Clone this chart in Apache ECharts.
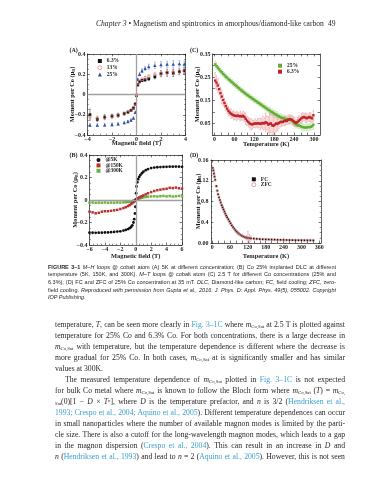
<!DOCTYPE html>
<html><head><meta charset="utf-8">
<script src="https://cdn.jsdelivr.net/npm/echarts@6/dist/echarts.min.js"></script>
<style>
html,body{margin:0;padding:0;background:#fff}
#page{position:relative;width:389px;height:480px;overflow:hidden;background:#fff}
#chart{position:absolute;left:0;top:0;width:389px;height:480px}
.t{position:absolute;white-space:nowrap;color:#231f20}
.hd{font-family:'Liberation Serif',serif;font-size:7.6px;line-height:10px}
.cap{font-family:'Liberation Sans',sans-serif;font-size:5.5px;line-height:7.6px;left:48px;width:288px}
.bd{font-family:'Liberation Serif',serif;font-size:7.7px;line-height:11px;left:55px;width:290px}
.lk{color:#3c9fd0}
sub{font-size:0.62em;vertical-align:-0.3em;line-height:0}
sup{font-size:0.62em;vertical-align:0.45em;line-height:0}
</style>
</head><body>
<div id="page">
<div id="chart"></div>

<div class="t hd" style="left:96px;top:19px"><i>Chapter 3</i> • Magnetism and spintronics in amorphous/diamond-like carbon</div>
<div class="t hd" style="left:328px;top:19px">49</div>

<div class="t cap j" style="top:263.7px"><span><b>FIGURE 3–1</b> <i>M–H</i> loops @ cobalt atom (A) 5K at different concentration; (B) Co 25% implanted DLC at different</span></div>
<div class="t cap j" style="top:271.3px"><span>temperature (5K, 150K, and 300K). <i>M–T</i> loops @ cobalt atom (C) 2.5 T for different Co concentrations (25% and</span></div>
<div class="t cap j" style="top:278.9px"><span>6.3%); (D) FC and ZFC of 25% Co concentration at 35 mT. <i>DLC</i>, Diamond-like carbon; <i>FC</i>, field cooling; <i>ZFC</i>, zero-</span></div>
<div class="t cap j" style="top:286.5px"><span>field cooling. <i>Reproduced with permission from Gupta et al., 2016. J. Phys. D: Appl. Phys. 49(5), 055002. Copyright</i></span></div>
<div class="t cap" style="top:294.1px"><span><i>IOP Publishing.</i></span></div>

<div class="t bd j" style="top:318.5px"><span>temperature, <i>T</i>, can be seen more clearly in <span class="lk">Fig. 3–1C</span> where <i>m</i><sub>Co,Sat</sub> at 2.5 T is plotted against</span></div>
<div class="t bd j" style="top:329.5px"><span>temperature for 25% Co and 6.3% Co. For both concentrations, there is a large decrease in</span></div>
<div class="t bd j" style="top:340.5px"><span><i>m</i><sub>Co,Sat</sub> with temperature, but the temperature dependence is different where the decrease is</span></div>
<div class="t bd j" style="top:351.5px"><span>more gradual for 25% Co. In both cases, <i>m</i><sub>Co,Sat</sub> at is significantly smaller and has similar</span></div>
<div class="t bd" style="top:362.5px"><span>values at 300K.</span></div>
<div class="t bd j" style="top:373.5px;left:65px;width:280px"><span>The measured temperature dependence of <i>m</i><sub>Co,Sat</sub> plotted in <span class="lk">Fig. 3–1C</span> is not expected</span></div>
<div class="t bd j" style="top:384.5px"><span>for bulk Co metal where <i>m</i><sub>Co,Sat</sub> is known to follow the Bloch form where <i>m</i><sub>Co,Sat</sub> (<i>T</i>) = <i>m</i><sub>Co,</sub></span></div>
<div class="t bd j" style="top:395.5px"><span><sub>Sat</sub>(0)[1 − <i>D</i> × <i>T</i><sup><i>n</i></sup>], where <i>D</i> is the temperature prefactor, and <i>n</i> is 3/2 (<span class="lk">Hendriksen et al.,</span></span></div>
<div class="t bd j" style="top:406.5px"><span><span class="lk">1993; Crespo et al., 2004; Aquino et al., 2005</span>). Different temperature dependences can occur</span></div>
<div class="t bd j" style="top:417.5px"><span>in small nanoparticles where the number of available magnon modes is limited by the parti-</span></div>
<div class="t bd j" style="top:428.5px"><span>cle size. There is also a cutoff for the long-wavelength magnon modes, which leads to a gap</span></div>
<div class="t bd j" style="top:439.5px"><span>in the magnon dispersion (<span class="lk">Crespo et al., 2004</span>). This can result in an increase in <i>D</i> and</span></div>
<div class="t bd j" style="top:450.5px"><span><i>n</i> (<span class="lk">Hendriksen et al., 1993</span>) and lead to <i>n</i> = 2 (<span class="lk">Aquino et al., 2005</span>). However, this is not seen</span></div>
</div>

<script>
// ---------- Panel A: M-H loops at 5K, different concentrations ----------
const fieldA = [-3.8,-3.2,-2.6,-2.0,-1.5,-1.0,-0.7,-0.45,-0.25,-0.1,0,0.1,0.25,0.45,0.7,1.0,1.5,2.0,2.5,3.0,3.5,3.9];
const momA63 = [-0.200,-0.245,-0.224,-0.214,-0.205,-0.188,-0.174,-0.158,-0.135,-0.095,-0.01,0.095,0.125,0.138,0.145,0.155,0.175,0.205,0.215,0.212,0.225,0.235];
const errA63 = [0.055,0.02,0.025,0.02,0.02,0.015,0.01,0.01,0.01,0.01,0.01,0.01,0.01,0.01,0.015,0.015,0.02,0.03,0.035,0.035,0.03,0.03];
const momA13 = [-0.225,-0.232,-0.225,-0.215,-0.208,-0.192,-0.178,-0.155,-0.128,-0.09,-0.005,0.09,0.13,0.15,0.165,0.18,0.2,0.21,0.218,0.225,0.23,0.232];
const errA13 = [0.025,0.02,0.02,0.015,0.015,0.015,0.01,0.01,0.01,0.01,0.01,0.01,0.01,0.01,0.015,0.015,0.02,0.025,0.025,0.03,0.03,0.025];
const momA25 = [-0.302,-0.302,-0.3,-0.296,-0.29,-0.278,-0.267,-0.252,-0.232,-0.175,0.0,0.15,0.2,0.235,0.258,0.275,0.288,0.295,0.3,0.3,0.305,0.3];
const errA25 = [0.015,0.015,0.015,0.015,0.015,0.01,0.01,0.01,0.01,0.01,0.01,0.01,0.015,0.02,0.02,0.025,0.03,0.03,0.03,0.035,0.03,0.03];
const legendA = ['6.3%','13%','25%'];

// ---------- Panel B: Co 25% at different temperatures ----------
const fieldB = [-6,-5.6,-5.2,-4.8,-4.4,-4,-3.6,-3.2,-2.8,-2.4,-2,-1.6,-1.3,-1,-0.8,-0.6,-0.45,-0.3,-0.2,-0.1,-0.05,0,0.05,0.1,0.2,0.3,0.45,0.6,0.8,1,1.3,1.6,2,2.4,2.8,3.2,3.6,4,4.4,4.8,5.2,5.6,6];
const mom5K = [-0.290,-0.291,-0.292,-0.290,-0.290,-0.289,-0.288,-0.286,-0.284,-0.281,-0.278,-0.272,-0.266,-0.258,-0.250,-0.240,-0.226,-0.200,-0.170,-0.120,-0.060,0.0,0.060,0.120,0.158,0.185,0.205,0.222,0.238,0.252,0.265,0.275,0.284,0.288,0.291,0.293,0.294,0.295,0.296,0.296,0.297,0.296,0.295];
const mom150K = [-0.104,-0.110,-0.118,-0.114,-0.104,-0.100,-0.100,-0.096,-0.092,-0.088,-0.080,-0.072,-0.064,-0.054,-0.046,-0.036,-0.028,-0.019,-0.013,-0.007,-0.003,0.0,0.004,0.008,0.012,0.016,0.022,0.028,0.034,0.041,0.050,0.060,0.070,0.080,0.087,0.092,0.097,0.100,0.108,0.106,0.110,0.104,0.102];
const mom300K = [-0.024,-0.022,-0.025,-0.023,-0.024,-0.022,-0.025,-0.023,-0.024,-0.022,-0.023,-0.021,-0.020,-0.018,-0.016,-0.013,-0.010,-0.007,-0.005,-0.003,-0.001,0.0,0.002,0.004,0.007,0.010,0.014,0.017,0.020,0.024,0.027,0.030,0.032,0.033,0.031,0.034,0.036,0.032,0.035,0.031,0.033,0.036,0.032];
const legendB = ['@5K','@150K','@300K'];

// ---------- Panel C: M-T at 2.5 T ----------
const tempC = [2,6,10,14,18,22,26,30,34,38,42,46,50,54,58,62,66,70,74,78,82,86,90,94,98,102,106,110,114,118,122,126,130,134,138,142,146,150,154,158,162,166,170,174,178,182,186,190,194,198,202,206,210,214,218,222,226,230,234,238,242,246,250,254,258,262,266,270,274,278,282,286,290,294,298];
const momC25 = [0.305,0.298,0.291,0.284,0.276,0.271,0.264,0.259,0.252,0.248,
  0.241,0.237,0.231,0.227,0.221,0.216,0.212,0.206,0.202,0.196,
  0.192,0.187,0.183,0.178,0.174,0.170,0.165,0.162,0.157,0.154,
  0.149,0.146,0.141,0.138,0.133,0.130,0.125,0.122,0.117,0.114,
  0.109,0.106,0.101,0.099,0.095,0.091,0.088,0.084,0.081,0.078,
  0.075,0.073,0.071,0.069,0.067,0.066,0.067,0.066,0.062,0.056,
  0.050,0.046,0.043,0.041,0.039,0.036,0.034,0.033,0.032,0.033,
  0.034,0.034,0.035,0.038,0.044];
const errC25 = [0.015,0.015,0.012,0.012,0.013,0.012,0.011,0.012,0.012,0.011,
  0.010,0.012,0.010,0.012,0.011,0.012,0.010,0.012,0.011,0.012,
  0.010,0.012,0.011,0.012,0.010,0.012,0.011,0.012,0.010,0.012,
  0.011,0.012,0.010,0.013,0.011,0.012,0.010,0.013,0.011,0.012,
  0.012,0.015,0.013,0.014,0.012,0.015,0.013,0.016,0.012,0.015,
  0.013,0.015,0.012,0.016,0.013,0.015,0.012,0.016,0.014,0.015,
  0.012,0.016,0.013,0.015,0.012,0.014,0.013,0.015,0.012,0.014,
  0.012,0.015,0.013,0.015,0.02];
const momC63 = [0.235,0.226,0.214,0.198,0.181,0.166,0.151,0.138,0.125,0.114,
  0.104,0.097,0.092,0.088,0.085,0.083,0.082,0.084,0.081,0.082,
  0.080,0.083,0.078,0.070,0.062,0.056,0.050,0.047,0.046,0.048,
  0.050,0.049,0.051,0.050,0.048,0.050,0.052,0.050,0.055,0.052,
  0.045,0.048,0.050,0.042,0.040,0.045,0.050,0.048,0.052,0.055,
  0.057,0.056,0.060,0.062,0.061,0.066,0.068,0.068,0.065,0.060,
  0.055,0.052,0.056,0.062,0.067,0.072,0.076,0.078,0.075,0.072,
  0.075,0.078,0.075,0.072,0.085];
const errC63 = [0.035,0.03,0.03,0.025,0.025,0.03,0.025,0.02,0.02,0.02,
  0.02,0.015,0.02,0.015,0.02,0.015,0.02,0.015,0.015,0.02,
  0.015,0.02,0.02,0.025,0.02,0.02,0.02,0.025,0.02,0.015,
  0.02,0.015,0.02,0.02,0.025,0.02,0.03,0.025,0.04,0.03,
  0.035,0.045,0.04,0.05,0.055,0.04,0.035,0.03,0.025,0.02,
  0.02,0.015,0.02,0.02,0.015,0.02,0.02,0.015,0.02,0.02,
  0.02,0.015,0.02,0.02,0.015,0.02,0.02,0.015,0.02,0.02,
  0.015,0.02,0.02,0.015,0.02];
const legendC = ['25%','6.3%'];
const ticksC = [0,20,40,60,80,100,120,140,160,180,200,220,240,260,280,300];
const labelsC = [0,60,120,180,240,300];
const yLabelsC = [0.05,0.15,0.25,0.35];

// ---------- Panel D: FC and ZFC at 35 mT ----------
const tempD = [2,4,6,8,10,14,17,20,23,26,29,32,35,38,41,44,47,50,54,58,62,66,70,74,78,82,86,90,95,100,105,110,115,120,125,130,140,150,160,170,180,190,200,210,220,230,240,250,260,270,280,290,300,310,320,330,340];
const momFC = [0.145,0.140,0.134,0.128,0.122,
  0.110,0.101,0.094,0.088,0.083,0.078,0.073,0.069,0.065,0.061,0.057,0.053,0.050,
  0.046,0.042,0.038,0.034,0.031,0.028,0.025,0.022,0.020,0.018,
  0.016,0.014,0.0125,0.011,0.0105,0.0098,0.0094,0.009,
  0.0085,0.008,0.0076,0.0073,0.007,0.0068,0.0066,0.0064,0.0062,0.006,0.0059,0.0058,0.0057,0.0056,0.0055,0.0054,0.0054,0.0053,0.0052,0.0052,0.0051];
const momZFC = [0.144,0.139,0.133,0.127,0.121,
  0.109,0.100,0.093,0.087,0.082,0.077,0.072,0.068,0.064,0.060,0.056,0.053,0.049,
  0.045,0.041,0.037,0.034,0.030,0.027,0.024,0.022,0.019,0.017,
  0.015,0.0135,0.012,0.0108,0.010,0.0095,0.0092,0.0088,
  0.0083,0.0079,0.0075,0.0072,0.0069,0.0067,0.0065,0.0063,0.0061,0.006,0.0058,0.0057,0.0056,0.0055,0.0054,0.0053,0.0053,0.0052,0.0051,0.0051,0.005];
const errZFC = [0,0,0,0,0,
  0,0,0,0,0,0,0,0,0,0,0,0,0,
  0,0,0,0,0,0,0,0,0,0,
  0,0,0,0,0.004,0.013,0.008,0.005,
  0,0,0,0,0,0,0,0,0,0,0.004,0,0,0,0,0,0,0,0,0,0];
const legendD = ['FC','ZFC'];
const ticksD = [0,20,40,60,80,100,120,140,160,180,200,220,240,260,280,300,320,340,360];
const labelsD = [0,60,120,180,240,300,360];
const yLabelsD = ['0.00','0.4','0.8','0.12','0.16'];

// ---------- chart ----------
const SERIF = 'Liberation Serif';
const INK = '#1c1c1c';
const LBL = {fontFamily: SERIF, fontWeight: 'bold', fontSize: 6, color: INK};
const NAME = {fontFamily: SERIF, fontWeight: 'bold', fontSize: 6.4, color: INK,
  rich: {s: {fontFamily: SERIF, fontWeight: 'bold', fontSize: 4.3, color: INK, padding: [3, 0, 0, 0]}}};
const fmt = v => String(+(+v).toFixed(2)).replace('-', '\u2212');
const MOMENT = 'Moment per Co (\u03bc{s|B})';

function mkAxes(dim, g, c) {
  const base = {
    type: 'value', gridIndex: g, min: c.min, max: c.max,
    splitLine: {show: false}, minorSplitLine: {show: false},
    axisLine: {show: true, onZero: false, lineStyle: {color: INK, width: 0.7}},
    axisTick: {show: true, inside: true, length: 2.4, lineStyle: {color: INK, width: 0.6}},
    minorTick: {show: !!c.minor, splitNumber: c.minor || 1, length: 1.3, lineStyle: {color: INK, width: 0.5}}
  };
  if (c.interval) base.interval = c.interval;
  if (c.tickVals) base.axisTick.customValues = c.tickVals;
  const main = Object.assign({}, base, {
    position: dim === 'x' ? 'bottom' : 'left',
    axisLabel: Object.assign({}, LBL, {margin: c.lm, formatter: c.fmt || fmt}),
    name: c.name, nameLocation: 'middle', nameGap: c.ng, nameTextStyle: NAME, nameMoveOverlap: false
  });
  if (c.labelVals) main.axisLabel.customValues = c.labelVals;
  const opp = Object.assign({}, base, {position: dim === 'x' ? 'top' : 'right', axisLabel: {show: false}});
  return [main, opp];
}

const xAxis = [].concat(
  mkAxes('x', 0, {min: -4, max: 4, interval: 2, minor: 4, lm: 1, name: 'Magnetic field (T)', ng: 5.5}),
  mkAxes('x', 1, {min: -6, max: 6, interval: 2, minor: 4, lm: 1, name: 'Magnetic field (T)', ng: 8.5}),
  mkAxes('x', 2, {min: -6, max: 318, tickVals: ticksC, labelVals: labelsC, lm: 1, name: 'Temperature (K)', ng: 6.5, fmt: v => String(v)}),
  mkAxes('x', 3, {min: -4, max: 366, tickVals: ticksD, labelVals: labelsD, lm: 1, name: 'Temperature (K)', ng: 10.3, fmt: v => String(v)})
);
const yAxis = [].concat(
  mkAxes('y', 0, {min: -0.4, max: 0.4, interval: 0.2, minor: 4, lm: 2, name: MOMENT, ng: 12}),
  mkAxes('y', 1, {min: -0.4, max: 0.4, interval: 0.2, minor: 4, lm: 2, name: MOMENT, ng: 10.8}),
  mkAxes('y', 2, {min: 0, max: 0.35, interval: 0.05, labelVals: yLabelsC, lm: 2, name: MOMENT, ng: 11.3, fmt: v => (+v).toFixed(2)}),
  mkAxes('y', 3, {min: 0, max: 0.16, interval: 0.04, minor: 4, lm: 2.5, name: MOMENT, ng: 9.6, fmt: v => yLabelsD[Math.round(v / 0.04)]})
);

function errBars(color, cap, lw) {
  return function (params, api) {
    const x = api.value(0), y = api.value(1), e = api.value(2);
    if (!e) return null;
    const a = api.coord([x, y - e]), b = api.coord([x, y + e]);
    const st = {stroke: color, lineWidth: lw, fill: null};
    return {type: 'group', children: [
      {type: 'line', shape: {x1: a[0], y1: a[1], x2: b[0], y2: b[1]}, style: st},
      {type: 'line', shape: {x1: a[0] - cap, y1: a[1], x2: a[0] + cap, y2: a[1]}, style: st},
      {type: 'line', shape: {x1: b[0] - cap, y1: b[1], x2: b[0] + cap, y2: b[1]}, style: st}
    ]};
  };
}
function pts(xs, ys) { return xs.map((x, i) => [x, ys[i]]); }
function ept(xs, ys, es) { return xs.map((x, i) => [x, ys[i], es[i]]); }
function scat(name, ax, data, symbol, size, color, extra) {
  return Object.assign({type: 'scatter', name, xAxisIndex: ax * 2, yAxisIndex: ax * 2, data, symbol, symbolSize: size,
    itemStyle: {color, opacity: 1}, z: 4, silent: true}, extra || {});
}
function ring(name, ax, data, size, color, bw) {
  return {type: 'scatter', name, xAxisIndex: ax * 2, yAxisIndex: ax * 2, data, symbol: 'circle', symbolSize: size,
    itemStyle: {color: 'rgba(255,255,255,0)', borderColor: color, borderWidth: bw, opacity: 1}, z: 5, silent: true};
}
function errS(ax, data, color, cap, lw) {
  return {type: 'custom', xAxisIndex: ax * 2, yAxisIndex: ax * 2, data, renderItem: errBars(color, cap, lw),
    encode: {x: 0, y: 1}, clip: true, silent: true, z: 2};
}
function zeroLines(ax) {
  return {type: 'scatter', xAxisIndex: ax * 2, yAxisIndex: ax * 2, data: [[0, 0]], symbolSize: 0, z: 1, silent: true,
    markLine: {silent: true, symbol: 'none', animation: false, label: {show: false},
      lineStyle: {color: '#a0a0a0', width: 1.3, type: 'solid'}, data: [{yAxis: 0}, {xAxis: 0}]}};
}

const series = [
  zeroLines(0),
  errS(0, ept(fieldA, momA63, errA63), '#333', 0.9, 0.5),
  errS(0, ept(fieldA, momA13, errA13), '#e39a9a', 0.9, 0.5),
  errS(0, ept(fieldA, momA25, errA25), '#6f86c4', 0.9, 0.5),
  scat('6.3%', 0, pts(fieldA, momA63), 'rect', 2.8, '#111'),
  ring('13%', 0, pts(fieldA, momA13), 2.8, '#e07a7a', 0.6),
  scat('25%', 0, pts(fieldA, momA25), 'triangle', 3.4, '#2f4fa0'),

  zeroLines(1),
  scat('@300K', 1, pts(fieldB, mom300K), 'rect', 2.5, '#6cb33f'),
  scat('@150K', 1, pts(fieldB, mom150K), 'rect', 2.5, '#b83232'),
  scat('@5K', 1, pts(fieldB, mom5K), 'circle', 2.8, '#111'),

  errS(2, ept(tempC, momC25, errC25), '#a9d68a', 0.7, 0.5),
  errS(2, ept(tempC, momC63, errC63), '#e58a8a', 0.7, 0.5),
  scat('C\u00b725%', 2, pts(tempC, momC25), 'rect', 2.4, '#63ad35'),
  scat('C\u00b76.3%', 2, pts(tempC, momC63), 'rect', 2.4, '#c0232b'),

  errS(3, ept(tempD, momZFC, errZFC), '#d98c8c', 0.8, 0.5),
  scat('FC', 3, pts(tempD, momFC), 'rect', 1.8, '#111'),
  ring('ZFC', 3, pts(tempD, momZFC), 2.4, '#d47a7a', 0.5)
];

const LEGTXT = {fontFamily: SERIF, fontWeight: 'bold', fontSize: 5.4, color: INK};
const ringStyle = c => ({color: 'rgba(255,255,255,0)', borderColor: c, borderWidth: 0.7});
function leg(left, top, names, icons, pitch, prefix, styles) {
  return {left, top, orient: 'vertical', itemWidth: 4, itemHeight: 4, itemGap: Math.max(0, pitch - 5.4),
    padding: 0, selectedMode: false, textStyle: Object.assign({}, LEGTXT, {lineHeight: 5.4}),
    data: names.map((n, i) => {
      const d = {name: (prefix || '') + n, icon: icons[i]};
      if (styles && styles[i]) d.itemStyle = styles[i];
      return d;
    }),
    formatter: prefix ? (n => n.replace(prefix, '')) : undefined};
}

const option = {
  animation: false,
  backgroundColor: 'transparent',
  grid: [
    {left: 87.5, top: 54, width: 98, height: 81, outerBoundsMode: 'none', containLabel: false},
    {left: 89.5, top: 155, width: 92.5, height: 90, outerBoundsMode: 'none', containLabel: false},
    {left: 212.5, top: 54, width: 107.5, height: 81, outerBoundsMode: 'none', containLabel: false},
    {left: 211, top: 160, width: 110, height: 83, outerBoundsMode: 'none', containLabel: false}
  ],
  xAxis, yAxis, series,
  legend: [
    leg(97.5, 58.3, legendA, ['rect', 'circle', 'triangle'], 6.7, '', [null, ringStyle('#e07a7a'), null]),
    leg(96.5, 157.3, legendB, ['circle', 'rect', 'rect'], 5.4),
    leg(278, 63, legendC, ['rect', 'rect'], 6, 'C\u00b7'),
    leg(251.5, 176.6, legendD, ['rect', 'circle'], 5.4, '', [null, ringStyle('#d47a7a')])
  ],
  graphic: [
    {type: 'text', left: 69.5, top: 47.8, style: {text: '(A)', fontFamily: SERIF, fontWeight: 'bold', fontSize: 6, fill: INK}},
    {type: 'text', left: 69.5, top: 152, style: {text: '(B)', fontFamily: SERIF, fontWeight: 'bold', fontSize: 6, fill: INK}},
    {type: 'text', left: 190, top: 47.8, style: {text: '(C)', fontFamily: SERIF, fontWeight: 'bold', fontSize: 6, fill: INK}},
    {type: 'text', left: 190, top: 152, style: {text: '(D)', fontFamily: SERIF, fontWeight: 'bold', fontSize: 6, fill: INK}}
  ]
};
const chart = echarts.init(document.getElementById('chart'));
chart.setOption(option);

// ---------- justify prose lines ----------
function justify() {
  document.querySelectorAll('.j').forEach(function (d) {
    const s = d.firstElementChild;
    s.style.wordSpacing = '0px';
    const target = parseFloat(getComputedStyle(d).width);
    const w = s.getBoundingClientRect().width;
    const n = (s.textContent.trim().match(/ /g) || []).length;
    if (n > 0) s.style.wordSpacing = ((target - w) / n) + 'px';
  });
}
justify();
if (document.fonts && document.fonts.ready) document.fonts.ready.then(justify);
</script>
</body></html>
